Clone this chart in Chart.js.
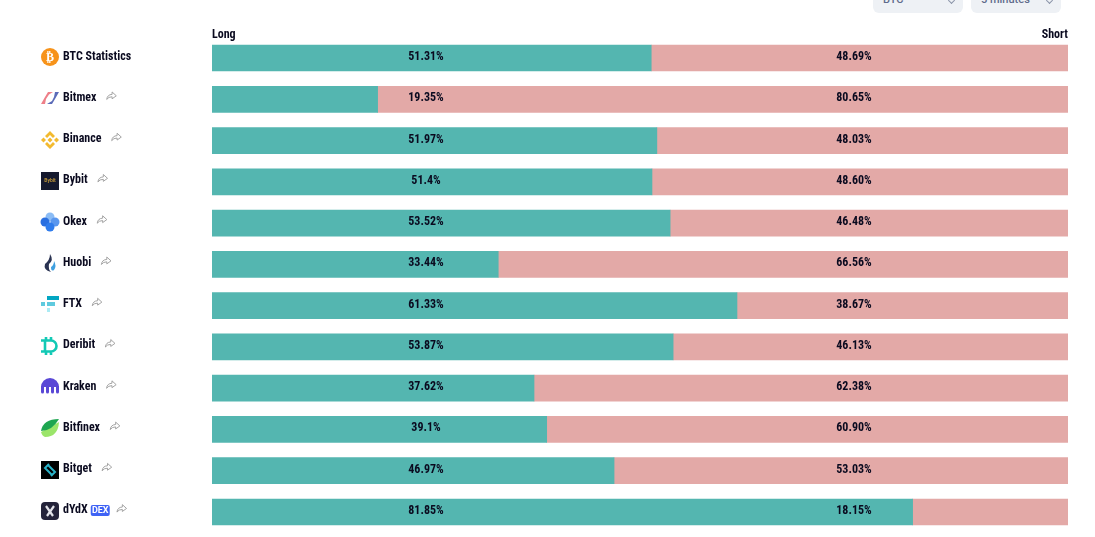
<!DOCTYPE html>
<html>
<head>
<meta charset="utf-8">
<title>Long / Short ratio</title>
<script src="https://cdn.jsdelivr.net/npm/chart.js@4/dist/chart.umd.min.js"></script>
<style>
html, body { margin: 0; background: #fff; overflow: hidden; }
#wrap { position: relative; width: 1095px; height: 537px; overflow: hidden; }
canvas { position: absolute; left: 0; top: 0; }
.select { position: absolute; top: -27px; width: 90px; height: 40px; background: #eef1f5; border-radius: 6px;
  font: 500 11px Roboto, sans-serif; color: #5f6b8c; }
.select span { position: absolute; left: 10px; top: 27px; line-height: 0; }
.select i { position: absolute; right: 9px; top: 25px; width: 4px; height: 4px; border: solid #8a93a8; border-width: 0 1px 1px 0; transform: rotate(45deg); }
</style>
</head>
<body>
<div id="wrap">
  <div class="select" style="left:873px"><span>BTC</span><i></i></div>
  <div class="select" style="left:971px"><span>5 minutes</span><i></i></div>
  <canvas id="ratioChart" width="1095" height="537"></canvas>
</div>
<script>
// Long / short ratio per exchange
const exchanges = ['BTC Statistics', 'Bitmex', 'Binance', 'Bybit', 'Okex', 'Huobi', 'FTX', 'Deribit', 'Kraken', 'Bitfinex', 'Bitget', 'dYdX'];
const longValues = [51.31, 19.35, 51.97, 51.4, 53.52, 33.44, 61.33, 53.87, 37.62, 39.1, 46.97, 81.85];
const shortValues = [48.69, 80.65, 48.03, 48.60, 46.48, 66.56, 38.67, 46.13, 62.38, 60.90, 53.03, 18.15];
const longLabels = ['51.31%', '19.35%', '51.97%', '51.4%', '53.52%', '33.44%', '61.33%', '53.87%', '37.62%', '39.1%', '46.97%', '81.85%'];
const shortLabels = ['48.69%', '80.65%', '48.03%', '48.60%', '46.48%', '66.56%', '38.67%', '46.13%', '62.38%', '60.90%', '53.03%', '18.15%'];
const sideLabels = ['Long', 'Short'];

const textColor = '#0a0a1f';
const fontFamily = '"Roboto Condensed", Roboto, sans-serif';
const labelFont = 'bold 12px ' + fontFamily;

function circle(c, x, y, r, color) {
    c.fillStyle = color;
    c.beginPath();
    c.arc(x, y, r, 0, Math.PI * 2);
    c.fill();
}

function poly(c, color, pts) {
    c.fillStyle = color;
    c.beginPath();
    pts.forEach((p, i) => i ? c.lineTo(p[0], p[1]) : c.moveTo(p[0], p[1]));
    c.closePath();
    c.fill();
}

// small logos, each one drawn around (0,0) in a 18x18 box
const logos = {
    'BTC Statistics': c => {
        circle(c, 0, 0, 9, '#f7931a');
        c.fillStyle = '#fff';
        c.font = 'bold 12px Roboto';
        c.textAlign = 'center';
        c.textBaseline = 'middle';
        c.fillText('₿', 0, 0.5);
    },
    'Bitmex': c => {
        poly(c, '#ee7f88', [[-9, 6], [-5, -1], [-2, -6], [3, -6], [-1, -3.5], [-4, 1], [-5, 6]]);
        poly(c, '#5b6bb8', [[-3, 6], [2, 3], [4, -1], [5, -6], [9, -6], [5, 1], [2, 6]]);
    },
    'Binance': c => {
        const y = '#f3ba2f';
        poly(c, y, [[0, -9], [5, -4], [3, -2], [0, -5], [-3, -2], [-5, -4]]);
        poly(c, y, [[0, 9], [5, 4], [3, 2], [0, 5], [-3, 2], [-5, 4]]);
        poly(c, y, [[-9, 0], [-6.5, -2.5], [-4, 0], [-6.5, 2.5]]);
        poly(c, y, [[9, 0], [6.5, -2.5], [4, 0], [6.5, 2.5]]);
        poly(c, y, [[0, -2.5], [2.5, 0], [0, 2.5], [-2.5, 0]]);
    },
    'Bybit': c => {
        c.fillStyle = '#15192e';
        c.fillRect(-9, -9, 18, 18);
        c.fillStyle = '#b8913a';
        c.font = 'bold 5px Roboto';
        c.textAlign = 'center';
        c.textBaseline = 'middle';
        c.fillText('Bybit', 0, 0);
    },
    'Okex': c => {
        circle(c, 0, -5, 4.5, '#8bbcf5');
        circle(c, -5, 0, 4.5, '#2a6fe0');
        circle(c, 5, 0, 4.5, '#5a97ee');
        circle(c, 0, 5, 4.5, '#2f7cec');
    },
    'Huobi': c => {
        c.fillStyle = '#2a3352';
        c.beginPath();
        c.moveTo(0, -9);
        c.quadraticCurveTo(4, -3, -1, 1);
        c.quadraticCurveTo(-2, 6, 1, 9);
        c.quadraticCurveTo(-7, 7, -5, 1);
        c.quadraticCurveTo(0, -3, 0, -9);
        c.fill();
        c.fillStyle = '#3fa0e0';
        c.beginPath();
        c.moveTo(4, -2);
        c.quadraticCurveTo(7, 3, 4, 7);
        c.quadraticCurveTo(1, 9, 1, 4);
        c.quadraticCurveTo(4, 2, 4, -2);
        c.fill();
    },
    'FTX': c => {
        c.fillStyle = '#02a6c2';
        c.fillRect(-3, -9, 12, 4);
        c.fillStyle = '#5fcade';
        c.fillRect(-9, -3, 4, 4);
        c.fillRect(-3, -3, 8, 4);
        c.fillStyle = '#abebf4';
        c.fillRect(-3, 3, 3, 4);
    },
    'Deribit': c => {
        c.strokeStyle = '#12c9b5';
        c.lineWidth = 2.6;
        c.beginPath();
        c.moveTo(-9, -5.5);
        c.lineTo(1, -5.5);
        c.arc(1, 0, 5.5, -Math.PI / 2, Math.PI / 2);
        c.lineTo(-9, 5.5);
        c.moveTo(-5, -5.5);
        c.lineTo(-5, 5.5);
        c.moveTo(-4, -9);
        c.lineTo(-4, -6);
        c.moveTo(1, -9);
        c.lineTo(1, -6);
        c.moveTo(-4, 6);
        c.lineTo(-4, 9);
        c.moveTo(1, 6);
        c.lineTo(1, 9);
        c.stroke();
    },
    'Kraken': c => {
        c.fillStyle = '#5a48d6';
        c.beginPath();
        c.arc(0, 0, 9, Math.PI, 0);
        c.closePath();
        c.fill();
        [-7.5, -2.5, 2.5, 7.5].forEach(x => {
            c.fillRect(x - 1.5, -1, 3, 6);
            circle(c, x, 5, 1.5, '#5a48d6');
        });
    },
    'Bitfinex': c => {
        c.fillStyle = '#9be56a';
        c.beginPath();
        c.moveTo(9, -6);
        c.quadraticCurveTo(8, 9, -5, 9);
        c.quadraticCurveTo(-8, 8, -9, 4);
        c.closePath();
        c.fill();
        c.fillStyle = '#1ea650';
        c.beginPath();
        c.moveTo(9, -9);
        c.quadraticCurveTo(-7, -9, -9, 3);
        c.quadraticCurveTo(2, 3, 9, -9);
        c.fill();
    },
    'Bitget': c => {
        c.fillStyle = '#000';
        c.fillRect(-9, -9, 18, 18);
        c.strokeStyle = '#2bb3c8';
        c.lineWidth = 2;
        c.beginPath();
        c.moveTo(-1, -6);
        c.lineTo(-5, -2);
        c.lineTo(2, 5);
        c.moveTo(1, 6);
        c.lineTo(5, 2);
        c.lineTo(-2, -5);
        c.stroke();
    },
    'dYdX': c => {
        c.fillStyle = '#24233a';
        c.beginPath();
        c.roundRect(-9, -9, 18, 18, 4);
        c.fill();
        c.strokeStyle = '#e4e4ea';
        c.lineWidth = 2.2;
        c.beginPath();
        c.moveTo(-4, -5);
        c.lineTo(3, 5);
        c.moveTo(4, -5);
        c.lineTo(-3, 5);
        c.stroke();
    }
};

function drawShare(c, x, y) {
    c.save();
    c.translate(x, y);
    c.scale(1.2, 1.2);
    c.strokeStyle = '#a0a0a0';
    c.lineWidth = 0.8;
    c.beginPath();
    c.moveTo(-4, 3);
    c.quadraticCurveTo(-3.5, -1, 0.5, -1.2);
    c.lineTo(0.5, -3.2);
    c.lineTo(4, 0);
    c.lineTo(0.5, 2.5);
    c.lineTo(0.5, 0.8);
    c.quadraticCurveTo(-2.5, 0.8, -4, 3);
    c.stroke();
    c.restore();
}

// draws the Long/Short heads, fixed value labels, logos, share arrows and the DEX badge
const rowExtras = {
    id: 'rowExtras',
    afterDatasetsDraw(chart) {
        const c = chart.ctx;
        const xs = chart.scales.x;
        const ys = chart.scales.y;
        c.save();
        c.fillStyle = textColor;
        c.font = labelFont;
        c.textBaseline = 'middle';
        c.textAlign = 'left';
        c.fillText(sideLabels[0], xs.left, 35);
        c.textAlign = 'right';
        c.fillText(sideLabels[1], xs.right, 35);
        c.restore();
        exchanges.forEach((name, i) => {
            const y = ys.getPixelForValue(i);
            c.save();
            c.fillStyle = textColor;
            c.font = labelFont;
            c.textAlign = 'center';
            c.textBaseline = 'middle';
            c.fillText(longLabels[i], xs.getPixelForValue(25), y - 1);
            c.fillText(shortLabels[i], xs.getPixelForValue(75), y - 1);
            const textEnd = 63 + c.measureText(name).width;
            c.restore();

            c.save();
            c.translate(50, Math.round(y - 1));
            logos[name](c);
            c.restore();

            if (name === 'BTC Statistics') return;
            let shareX = textEnd + 15;
            if (name === 'dYdX') {
                c.save();
                c.fillStyle = '#3f63f5';
                c.beginPath();
                c.roundRect(textEnd + 3, y - 7, 19, 11, 2);
                c.fill();
                c.fillStyle = '#fff';
                c.font = 'bold 9px Roboto';
                c.textAlign = 'center';
                c.textBaseline = 'middle';
                c.fillText('DEX', textEnd + 12.5, y - 1);
                c.restore();
                shareX = textEnd + 34;
            }
            drawShare(c, shareX, y - 3.5);
        });
    }
};

new Chart(document.getElementById('ratioChart').getContext('2d'), {
    type: 'bar',
    data: {
        labels: exchanges,
        datasets: [
            { label: 'Long', data: longValues, backgroundColor: '#54b6b0', barThickness: 26 },
            { label: 'Short', data: shortValues, backgroundColor: '#e3a9a7', barThickness: 26 }
        ]
    },
    options: {
        indexAxis: 'y',
        responsive: false,
        animation: false,
        devicePixelRatio: 1,
        layout: { padding: { left: 63, right: 27, top: 37.4, bottom: 4.4 } },
        plugins: { legend: { display: false }, tooltip: { enabled: false } },
        scales: {
            x: { display: false, stacked: true, min: 0, max: 100 },
            y: {
                stacked: true,
                grid: { display: false, drawTicks: false },
                border: { display: false },
                // the tick labels must not pull the plot area away from the bottom edge
                afterFit(axis) {
                    axis.width = 149;
                    axis.paddingTop = 0;
                    axis.paddingBottom = 0;
                },
                ticks: {
                    crossAlign: 'far',
                    autoSkip: false,
                    labelOffset: -1.5,
                    padding: 0,
                    color: textColor,
                    font: { family: fontFamily, size: 12, weight: 'bold' }
                }
            }
        }
    },
    plugins: [rowExtras]
});
</script>
</body>
</html>
